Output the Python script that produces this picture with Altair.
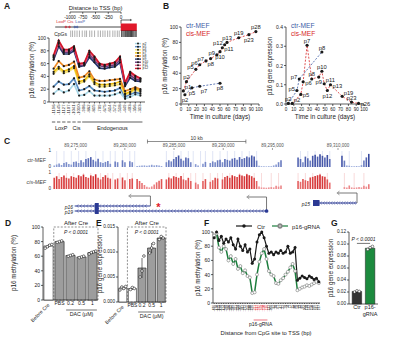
import json
import altair as alt
import pandas as pd

W, H = 401, 342
FONT = "Liberation Sans"
INK = "#1a1a1a"

# ======================= DATA =======================
# ---- Panel A ----
a_sites = ["-1196", "-1145", "-1127", "-1107", "-1041", "-1010", "-906", "-862", "-815",
           "-709", "-675", "-614", "-572", "-518", "-449", "-403", "-356", "-313"]
a_series = ["p2", "p5", "p6", "p7", "p8", "p9", "p10", "p11", "p12"]
a_p2 = [13, 20, 15, 18, 28, 10, 11, 17, 10, 10, 10, 10, 12, 15, 5, 8, 12, 10]
a_p5 = [24, 32, 27, 28, 37, 18, 20, 25, 18, 17, 16, 17, 18, 22, 8, 12, 15, 13]
a_p6 = [44, 52, 45, 48, 53, 29, 32, 40, 28, 24, 24, 25, 26, 28, 11, 14, 19, 16]
a_p7 = [47, 55, 48, 51, 56, 32, 34, 43, 31, 27, 27, 28, 29, 32, 13, 16, 21, 18]
a_p8 = [52, 64, 56, 58, 63, 38, 40, 48, 35, 33, 33, 34, 35, 36, 17, 20, 23, 20]
a_p9 = [66, 87, 75, 75, 80, 55, 57, 70, 62, 53, 52, 54, 55, 62, 25, 38, 33, 32]
a_p10 = [69, 91, 78, 78, 83, 57, 58, 74, 66, 57, 55, 57, 58, 66, 27, 42, 36, 34]
a_p11 = [71, 93, 80, 80, 85, 59, 60, 77, 69, 59, 57, 59, 61, 69, 29, 45, 39, 36]
a_p12 = [73, 96, 82, 82, 87, 60, 61, 80, 71, 60, 58, 60, 62, 71, 30, 47, 41, 37]
a_values = [a_p2, a_p5, a_p6, a_p7, a_p8, a_p9, a_p10, a_p11, a_p12]
a_colors = ["#a9d8e8", "#5b8fc4", "#f3e27a", "#f2c10f", "#ee8b25",
            "#26346e", "#6d3b7c", "#e0628a", "#d3172b"]
a_group_names = ["LoxP", "Cis", "Endogenous"]
a_group_first = [0, 4, 6]
a_group_last = [3, 5, 17]
a_tss_ticks = [-1000, -750, -500, -250, 0]
a_tss_labels = ["-1000", "-750", "-500", "-250", "0"]
a_cpg_bp = [-986, -950, -906, -862, -815, -760, -709, -675, -614, -572, -518, -449, -403,
            -356, -313, -262, -219, -160, -118, -72, -35, 12, 38, 61, 85, 104, 126, 149,
            170, 188, 206, 228, 251, 276, 298]
pct_ticks = [0, 20, 40, 60, 80, 100]
pct_labels = ["0", "20", "40", "60", "80", "100"]

# ---- Panel B ----
bl_cis_day = [3, 7, 19, 24, 32, 38, 46, 50, 53, 56, 59, 74, 87, 96]
bl_cis_meth = [17, 29, 45, 51, 56, 59, 64, 68, 73, 77, 80, 86, 90, 94]
bl_cis_lab = ["p1", "p2", "p5", "p6", "p7", "p8", "p9", "p10", "p11", "p12", "p13", "p19", "p23", "p28"]
bl_ctr_day = [5, 14, 24, 50]
bl_ctr_meth = [12, 21, 23, 27]
bl_ctr_lab = ["p2", "p5", "p7", "p8"]

br_cis_day = [8, 19, 22, 27, 33, 42, 46, 49, 53, 57, 72, 84, 93]
br_cis_expr = [0.003, 0.05, 0.115, 0.305, 0.13, 0.14, 0.17, 0.105, 0.07, 0.10, 0.04, 0.01, 0.003]
br_cis_lab = ["p2", "p5", "p6", "p7", "p8", "p9", "p10", "p11", "p12", "p13", "p19", "p23", "p26"]
br_ctr_day = [3, 14, 17, 46]
br_ctr_expr = [0.003, 0.07, 0.13, 0.27]
br_ctr_lab = ["p2", "p5", "p7", "p8"]
day_ticks = [0, 10, 20, 30, 40, 50, 60, 70, 80, 90, 100]
day_labels = ["0", "10", "20", "30", "40", "50", "60", "70", "80", "90", "100"]
expr_ticks = [0, 0.1, 0.2, 0.3, 0.4]
expr_labels = ["0.0", "0.1", "0.2", "0.3", "0.4"]

# ---- Panel C ----
c_ticks = [89275000, 89280000, 89285000, 89290000, 89295000, 89310000]
c_tick_labels = ["89,275,000", "89,280,000", "89,285,000", "89,290,000", "89,295,000", "89,310,000"]
c_scalebar = [89282300, 89292300]
c_ctr = [0.10, 0.15, 0.22, 0.12, 0.25, 0.30, 0.18, 0.15, 0.32, 0.35, 0.25, 0.42, 0.30, 0.50, 0.55,
         0.62, 0.45, 0.35, 0.52, 0.30, 0.25, 0.32, 0.38, 0.20,
         0.0, 0.35, 0.30, 0.0, 0.42, 0.30, 0.0, 0.36, 0.30, 0.0,
         0.06, 0.08, 0.10, 0.10, 0.08, 0.10, 0.14, 0.10, 0.12, 0.10, 0.06,
         0.0, 0.30, 0.42, 0.35, 0.50, 0.62, 0.72, 0.52, 0.40, 0.60, 0.55, 0.30, 0.0, 0.18,
         0.10, 0.0, 0.20, 0.32, 0.0, 0.25, 0.35, 0.30, 0.42, 0.46, 0.30, 0.50, 0.45, 0.40, 0.52,
         0.56, 0.45, 0.62, 0.50, 0.56, 0.66, 0.60, 0.72, 0.65, 0.40,
         0.08, 0.05, 0.05, 0.04, 0.05, 0.05, 0.10, 0.16, 0.30, 0.42,
         0.0, 0.0, 0.0, 0.0, 0.0, 0.0,
         0.60, 0.50, 0.30, 0.65, 0.55, 0.40, 0.70, 0.76, 0.65, 0.80, 0.70, 0.60, 0.75, 0.50,
         0.0, 0.0, 0.0, 0.0,
         0.70, 0.40, 0.10, 0.08, 0.05, 0.05, 0.06, 0.05, 0.12, 0.40, 0.60, 0.82]
c_cis = [0.70, 0.80, 0.62, 0.75, 0.85, 0.70, 0.66, 0.80, 0.75, 0.70, 0.86, 0.80, 0.90, 0.75, 0.70,
         0.85, 0.80, 0.92, 0.70, 0.60, 0.75, 0.86, 0.70, 0.65,
         0.0, 0.60, 0.66, 0.0, 0.72, 0.55, 0.0, 0.62, 0.66, 0.0,
         0.62, 0.50, 0.38, 0.25, 0.14, 0.10, 0.16, 0.28, 0.42, 0.52, 0.62,
         0.0, 0.60, 0.72, 0.66, 0.80, 0.75, 0.70, 0.82, 0.60, 0.55, 0.70, 0.50, 0.0, 0.40,
         0.30, 0.0, 0.50, 0.62, 0.0, 0.45, 0.55, 0.70, 0.66, 0.0, 0.60, 0.75, 0.82, 0.70, 0.86,
         0.80, 0.75, 0.90, 0.85, 0.80, 0.92, 0.86, 0.80, 0.70, 0.50,
         0.15, 0.10, 0.10, 0.08, 0.10, 0.12, 0.10, 0.20, 0.15, 0.22,
         0.0, 0.0, 0.0, 0.0, 0.0, 0.0,
         0.50, 0.45, 0.62, 0.55, 0.50, 0.72, 0.76, 0.82, 0.86, 0.90, 0.80, 0.76, 0.60, 0.40,
         0.0, 0.0, 0.0, 0.0,
         0.0, 0.12, 0.10, 0.22, 0.10, 0.08, 0.10, 0.12, 0.10, 0.20, 0.15, 0.30]
c_pale_ctr = [1, 4, 7, 10, 13, 17, 20, 23, 25, 28, 31, 33, 46, 49, 52, 55, 57, 60, 62, 65, 68,
              71, 74, 77, 80, 83, 101, 104, 107, 110, 113, 118, 121, 126]
c_pale_cis = [2, 5, 8, 12, 15, 19, 22, 24, 27, 30, 32, 47, 50, 53, 56, 58, 61, 64, 67, 69, 72,
              76, 79, 82, 85, 89, 92, 100, 103, 106, 109, 112, 119, 123, 127]
c_genes = ["p16", "p19", "p15"]
c_gene_start = [89274900, 89274900, 89307500]
c_gene_end = [89282600, 89294400, 89311900]
c_exon_start = [89276950, 89276950, 89307500]
c_exon_end = [89277350, 89277350, 89308150]
c_arrow_end = [89280500, 89292500, 89310000]
c_star = [89283400]

# ---- Panel D / E ----
dose_labels = ["Before Cre", "PBS", "0.2", "0.5", "1"]
d_mean = [74, 80, 61, 59, 65]
d_sd = [2.5, 1.0, 1.2, 0.8, 2.0]
d_reps = [[71, 73, 75, 76], [79, 80, 81], [60, 61, 62], [58, 59, 60], [63, 65, 66, 67]]
e_mean = [0.0028, 0.0027, 0.0068, 0.0108, 0.0128]
e_sd = [0.0004, 0.0003, 0.0020, 0.0010, 0.0003]
e_reps = [[0.0024, 0.0030, 0.0027, 0.0031], [0.0025, 0.0029, 0.0027],
          [0.0050, 0.0062, 0.0092], [0.0098, 0.0108, 0.0117], [0.0125, 0.0131, 0.0128]]
e_ticks = [0, 0.005, 0.010, 0.015]
e_labels = ["0.000", "0.005", "0.010", "0.015"]

# ---- Panel F ----
f_dist = ["-486", "-470", "-455", "-428", "-414", "-398", "-380", "-362", "-349", "-331",
          "-318", "-302", "-287", "-273", "-256", "-240", "-226", "-211", "-197", "-182",
          "-168", "-150", "-136", "-121", "-105", "-92", "-78", "-61", "-47", "-33",
          "-18", "-4", "11", "25", "40", "58", "73", "89", "104", "118",
          "133", "150", "166", "181", "197"]
f_ctr = [92, 100, 88, 94, 84, 90, 86, 92, 82, 76, 90, 80, 74, 82, 72, 76, 56, 62, 86, 96,
         100, 92, 80, 70, 72, 68, 72, 70, 74, 70, 72, 80, 70, 72, 78, 32, 35, 38, 36, 34,
         38, 36, 33, 35, 30]
f_grna = [95, 98, 78, 72, 80, 76, 60, 66, 55, 62, 48, 52, 42, 46, 38, 36, 14, 15, 40, 58,
          70, 76, 62, 45, 40, 38, 28, 27, 32, 35, 40, 44, 50, 55, 45, 18, 20, 22, 23, 25,
          24, 26, 28, 30, 28]
f_grna_first, f_grna_last = 17, 22

# ---- Panel G ----
g_groups = ["Ctr", "p16-gRNA"]
g_mean = [0.021, 0.093]
g_sd = [0.0015, 0.002]
g_reps = [[0.020, 0.022, 0.021], [0.091, 0.094, 0.096]]
g_ticks = [0, 0.02, 0.04, 0.06, 0.08, 0.10, 0.12]
g_labels = ["0.00", "0.02", "0.04", "0.06", "0.08", "0.10", "0.12"]


# ======================= HELPERS =======================
def lin(d, r):
    return alt.Scale(domain=d, range=r, nice=False, zero=False)


def txt(s, x, y, size=6, **kw):
    kw.setdefault("color", INK)
    return alt.Chart(pd.DataFrame({"t": [s]})).mark_text(fontSize=size, font=FONT, **kw).encode(
        x=alt.value(x), y=alt.value(y), text="t:N")


def vaxis(ys, x_px, ticks, labels, size=5.0, tlen=2.0, lo=None, hi=None):
    lo = ticks[0] if lo is None else lo
    hi = ticks[-1] if hi is None else hi
    dom = pd.DataFrame({"a": [lo], "b": [hi]})
    tk = pd.DataFrame({"v": ticks, "lab": labels})
    return [
        alt.Chart(dom).mark_rule(color=INK, strokeWidth=0.7).encode(
            x=alt.value(x_px), y=alt.Y("a:Q", scale=ys, axis=None), y2="b:Q"),
        alt.Chart(tk).mark_rule(color=INK, strokeWidth=0.7).encode(
            x=alt.value(x_px - tlen), x2=alt.value(x_px), y=alt.Y("v:Q", scale=ys, axis=None)),
        alt.Chart(tk).mark_text(fontSize=size, font=FONT, color=INK, align="right", baseline="middle").encode(
            x=alt.value(x_px - tlen - 1), y=alt.Y("v:Q", scale=ys, axis=None), text="lab:N"),
    ]


def haxis(xs, y_px, ticks, labels, size=5.0, tlen=2.0, lo=None, hi=None, angle=0,
          color=None, domain=True, top=False):
    lo = ticks[0] if lo is None else lo
    hi = ticks[-1] if hi is None else hi
    dom = pd.DataFrame({"a": [lo], "b": [hi]})
    tk = pd.DataFrame({"v": ticks, "lab": labels})
    out = []
    if domain:
        out.append(alt.Chart(dom).mark_rule(color=INK, strokeWidth=0.7).encode(
            x=alt.X("a:Q", scale=xs, axis=None), x2="b:Q", y=alt.value(y_px)))
    if tlen > 0:
        y2 = y_px - tlen if top else y_px + tlen
        out.append(alt.Chart(tk).mark_rule(color=INK if domain else "#777", strokeWidth=0.7).encode(
            x=alt.X("v:Q", scale=xs, axis=None), y=alt.value(y_px), y2=alt.value(y2)))
    if top:
        props = dict(align="center", baseline="bottom")
        ly = y_px - tlen - 0.5
    elif angle == 270:
        props = dict(align="right", baseline="middle", angle=270)
        ly = y_px + tlen + 1
    else:
        props = dict(align="center", baseline="top")
        ly = y_px + tlen + 1
    enc = dict(x=alt.X("v:Q", scale=xs, axis=None), y=alt.value(ly), text="lab:N")
    if color is not None:
        enc["color"] = color
    else:
        props["color"] = INK
    out.append(alt.Chart(tk).mark_text(fontSize=size, font=FONT, **props).encode(**enc))
    return out


def ytitle(s, x, y, size=6.3):
    return txt(s, x, y, size, angle=270, align="center", baseline="middle")


layers = []

# ======================= PANEL A =======================
a_rows = []
for s, vals in zip(a_series, a_values):
    for i, v in enumerate(vals):
        a_rows.append({"series": s, "i": i, "v": v})
a_df = pd.DataFrame(a_rows)
a_x = lin([-0.9, 17.9], [49, 145])
a_y = lin([0, 100], [102, 38])
a_col = alt.Color("series:N", scale=alt.Scale(domain=a_series, range=a_colors), legend=None)

a_lines = alt.Chart(a_df).mark_line(strokeWidth=1.7).encode(
    x=alt.X("i:Q", scale=a_x, axis=None), y=alt.Y("v:Q", scale=a_y, axis=None), color=a_col)
a_pts = alt.Chart(a_df).mark_circle(size=5, color=INK, opacity=1).encode(
    x=alt.X("i:Q", scale=a_x, axis=None), y=alt.Y("v:Q", scale=a_y, axis=None))
a_grp_df = pd.DataFrame({"name": a_group_names, "first": a_group_first, "last": a_group_last})
# short underline under each LoxP / Cis site, one long line under the endogenous sites
a_short_idx = [i for f, l in zip(a_group_first[:2], a_group_last[:2]) for i in range(f, l + 1)]
a_short = alt.Chart(pd.DataFrame({"i": a_short_idx})).transform_calculate(
    lo="datum.i - 0.33", hi="datum.i + 0.33").mark_rule(color=INK, strokeWidth=0.7).encode(
    x=alt.X("lo:Q", scale=a_x, axis=None), x2="hi:Q", y=alt.value(122))
a_long = alt.Chart(a_grp_df.iloc[2:]).transform_calculate(
    lo="datum.first - 0.4", hi="datum.last + 0.4").mark_rule(color=INK, strokeWidth=0.7).encode(
    x=alt.X("lo:Q", scale=a_x, axis=None), x2="hi:Q", y=alt.value(122))
a_grp_txt = alt.Chart(a_grp_df).transform_calculate(
    mid="(datum.first + datum.last) / 2").mark_text(fontSize=5.5, font=FONT, color=INK).encode(
    x=alt.X("mid:Q", scale=a_x, axis=None), y=alt.value(128), text="name:N")
a_axes = vaxis(a_y, 49, pct_ticks, pct_labels) + haxis(
    a_x, 102, list(range(18)), a_sites, size=4.2, tlen=1.5, lo=-0.9, hi=17.9, angle=270)
layers.append(alt.layer(*a_axes, a_lines, a_pts, a_short, a_long, a_grp_txt))
layers.append(ytitle("p16 methylation (%)", 32, 70))

# legend of A
a_leg = pd.DataFrame({"series": a_series})
a_leg_y = alt.Scale(type="point", domain=a_series, range=[42, 70])
a_leg_line = alt.Chart(a_leg).mark_rule(strokeWidth=1.4).encode(
    x=alt.value(135), x2=alt.value(141), y=alt.Y("series:N", scale=a_leg_y, axis=None), color=a_col)
a_leg_dot = alt.Chart(a_leg).mark_circle(size=4, color=INK, opacity=1).encode(
    x=alt.value(138), y=alt.Y("series:N", scale=a_leg_y, axis=None))
a_leg_txt = alt.Chart(a_leg).mark_text(fontSize=3.4, font=FONT, align="left", color=INK).encode(
    x=alt.value(142.5), y=alt.Y("series:N", scale=a_leg_y, axis=None), text="series:N")
layers.append(alt.layer(a_leg_line, a_leg_dot, a_leg_txt))

# top schematic of A
a_bp = lin([-1000, 0], [70, 121])
a_top_axis = haxis(a_bp, 12, a_tss_ticks, a_tss_labels, size=4.6, tlen=1.8)
a_top_title = alt.Chart(pd.DataFrame({"a": [-500], "t": ["Distance to TSS (bp)"]})).mark_text(
    fontSize=5.8, font=FONT, color=INK, baseline="bottom").encode(
    x=alt.X("a:Q", scale=a_bp, axis=None), y=alt.value(10.5), text="t:N")
a_line = alt.Chart(pd.DataFrame({"a": [-1290], "b": [0]})).mark_rule(color=INK, strokeWidth=0.8).encode(
    x=alt.X("a:Q", scale=a_bp, axis=None), x2="b:Q", y=alt.value(27))
a_exon = alt.Chart(pd.DataFrame({"a": [-5], "b": [310]})).mark_rect(color="#e0192b").encode(
    x=alt.X("a:Q", scale=a_bp, axis=None), x2="b:Q", y=alt.value(23.5), y2=alt.value(31))
a_tss_v = alt.Chart(pd.DataFrame({"a": [0]})).mark_rule(color=INK, strokeWidth=0.7).encode(
    x=alt.X("a:Q", scale=a_bp, axis=None), y=alt.value(20), y2=alt.value(23.5))
a_tss_h = alt.Chart(pd.DataFrame({"a": [0], "b": [190]})).mark_rule(color=INK, strokeWidth=0.7).encode(
    x=alt.X("a:Q", scale=a_bp, axis=None), x2="b:Q", y=alt.value(20))
a_tss_head = alt.Chart(pd.DataFrame({"a": [200]})).mark_point(shape="triangle-right", filled=True, size=6, color=INK).encode(
    x=alt.X("a:Q", scale=a_bp, axis=None), y=alt.value(20))
a_lox_red = alt.Chart(pd.DataFrame({"a": [-1080, -1010]})).mark_point(shape="diamond", filled=True, size=10, color="#d3172b").encode(
    x=alt.X("a:Q", scale=a_bp, axis=None), y=alt.value(27))
a_lox_blue = alt.Chart(pd.DataFrame({"a": [-905, -860]})).mark_point(shape="diamond", filled=True, size=10, color="#3a55a4").encode(
    x=alt.X("a:Q", scale=a_bp, axis=None), y=alt.value(27))
a_lox_t1 = alt.Chart(pd.DataFrame({"a": [-1175], "t": ["LoxP"]})).mark_text(fontSize=4.3, font=FONT, color="#d3172b").encode(
    x=alt.X("a:Q", scale=a_bp, axis=None), y=alt.value(22), text="t:N")
a_lox_t2 = alt.Chart(pd.DataFrame({"a": [-995], "t": ["Cis"]})).mark_text(fontSize=4.3, font=FONT, color="#d3172b").encode(
    x=alt.X("a:Q", scale=a_bp, axis=None), y=alt.value(22), text="t:N")
a_lox_t3 = alt.Chart(pd.DataFrame({"a": [-800], "t": ["LoxP"]})).mark_text(fontSize=4.3, font=FONT, color="#3a55a4").encode(
    x=alt.X("a:Q", scale=a_bp, axis=None), y=alt.value(22), text="t:N")
a_cpg = alt.Chart(pd.DataFrame({"bp": a_cpg_bp})).mark_rule(strokeWidth=0.8).encode(
    x=alt.X("bp:Q", scale=a_bp, axis=None), y=alt.value(30.5), y2=alt.value(37),
    color=alt.condition("datum.bp >= -30", alt.value(INK), alt.value("#9a9a9a")))
layers.append(alt.layer(*a_top_axis, a_top_title, a_line, a_exon, a_tss_v, a_tss_h, a_tss_head,
                        a_lox_red, a_lox_blue, a_lox_t1, a_lox_t2, a_lox_t3, a_cpg))
layers.append(txt("CpGs", 67, 34, 5, align="right", baseline="middle"))

# ======================= PANEL B =======================
BLUE = "#3b5ba5"
RED = "#d62728"
PLACE = {"above": dict(align="center", dx=0, dy=-4.5), "below": dict(align="center", dx=0, dy=5),
         "left": dict(align="right", dx=-2, dy=-2), "right": dict(align="left", dx=2, dy=1),
         "upright": dict(align="left", dx=1.5, dy=-3.5), "belowright": dict(align="left", dx=1, dy=5),
         "belowleft": dict(align="right", dx=-1, dy=5)}


def b_panel(cis_x, cis_y, cis_lab, ctr_x, ctr_y, ctr_lab, xs, ys, axes, groups_cis, groups_ctr):
    cis = pd.DataFrame({"d": cis_x, "v": cis_y, "lab": cis_lab})
    ctr = pd.DataFrame({"d": ctr_x, "v": ctr_y, "lab": ctr_lab})
    out = list(axes)
    out.append(alt.Chart(ctr).mark_line(color=BLUE, strokeWidth=0.8, strokeDash=[2, 1.5]).encode(
        x=alt.X("d:Q", scale=xs, axis=None), y=alt.Y("v:Q", scale=ys, axis=None)))
    out.append(alt.Chart(cis).mark_line(color=RED, strokeWidth=0.8, strokeDash=[2, 1.5]).encode(
        x=alt.X("d:Q", scale=xs, axis=None), y=alt.Y("v:Q", scale=ys, axis=None)))
    for df in (ctr, cis):
        out.append(alt.Chart(df).mark_circle(size=10, color=INK, opacity=1).encode(
            x=alt.X("d:Q", scale=xs, axis=None), y=alt.Y("v:Q", scale=ys, axis=None)))
    for df, groups in ((cis, groups_cis), (ctr, groups_ctr)):
        for key, names in groups.items():
            out.append(alt.Chart(df).transform_filter(
                alt.FieldOneOfPredicate(field="lab", oneOf=names)).mark_text(
                fontSize=5.8, font=FONT, color=INK, **PLACE[key]).encode(
                x=alt.X("d:Q", scale=xs, axis=None), y=alt.Y("v:Q", scale=ys, axis=None), text="lab:N"))
    return alt.layer(*out)


bl_x = lin([0, 100], [181, 259])
bl_y = lin([0, 100], [104, 27])
layers.append(b_panel(
    bl_cis_day, bl_cis_meth, bl_cis_lab, bl_ctr_day, bl_ctr_meth, bl_ctr_lab, bl_x, bl_y,
    vaxis(bl_y, 181, pct_ticks, pct_labels) + haxis(bl_x, 104, day_ticks, day_labels, size=4.6),
    {"left": ["p5", "p6", "p7", "p9", "p12"], "above": ["p2", "p13", "p19", "p28"],
     "below": ["p8", "p10", "p23"], "right": ["p11"], "upright": ["p1"]},
    {"below": ["p2", "p5", "p8"], "belowright": ["p7"]}))
layers.append(ytitle("p16 methylation (%)", 165, 66))
layers.append(txt("Time in culture (days)", 220, 117, 6.3, baseline="middle"))
layers.append(txt("ctr-MEF", 186, 26, 6.6, align="left", baseline="middle", color=BLUE))
layers.append(txt("cis-MEF", 186, 33.5, 6.6, align="left", baseline="middle", color=RED))

br_x = lin([0, 100], [286, 364])
br_y = lin([0, 0.4], [104, 27])
layers.append(b_panel(
    br_cis_day, br_cis_expr, br_cis_lab, br_ctr_day, br_ctr_expr, br_ctr_lab, br_x, br_y,
    vaxis(br_y, 286, expr_ticks, expr_labels) + haxis(br_x, 104, day_ticks, day_labels, size=4.6),
    {"above": ["p7", "p8", "p10", "p23"], "right": ["p5", "p6", "p13", "p26"],
     "upright": ["p2", "p11", "p19"], "below": ["p12", "p9"]},
    {"above": ["p2", "p8"], "left": ["p5", "p7"]}))
layers.append(ytitle("p16 gene expression", 270, 66))
layers.append(txt("Time in culture (days)", 325, 117, 6.3, baseline="middle"))
layers.append(txt("ctr-MEF", 291, 26, 6.6, align="left", baseline="middle", color=BLUE))
layers.append(txt("cis-MEF", 291, 33.5, 6.6, align="left", baseline="middle", color=RED))

# ======================= PANEL C =======================
c_g = lin([89272700, 89297800, 89307200, 89313200], [53, 300, 310, 370])
c_axis = haxis(c_g, 150, c_ticks, c_tick_labels, size=4.5, tlen=2, domain=False, top=True,
               color=alt.value("#555"))
c_sb = alt.Chart(pd.DataFrame({"a": [c_scalebar[0]], "b": [c_scalebar[1]]})).mark_rule(color="#444", strokeWidth=0.6).encode(
    x=alt.X("a:Q", scale=c_g, axis=None), x2="b:Q", y=alt.value(141.5))
c_sb_end = alt.Chart(pd.DataFrame({"a": c_scalebar})).mark_rule(color="#444", strokeWidth=0.6).encode(
    x=alt.X("a:Q", scale=c_g, axis=None), y=alt.value(139.5), y2=alt.value(143.5))
c_sb_t = alt.Chart(pd.DataFrame({"a": [sum(c_scalebar) / 2], "t": ["10 kb"]})).mark_text(
    fontSize=5, font=FONT, color="#333", baseline="bottom").encode(
    x=alt.X("a:Q", scale=c_g, axis=None), y=alt.value(140.5), text="t:N")

NAVY = "#2b3a94"
gene_df = pd.DataFrame({"gene": c_genes, "s": c_gene_start, "e": c_gene_end,
                        "xs": c_exon_start, "xe": c_exon_end, "ae": c_arrow_end})
gene_y = {"p16": 206, "p19": 211, "p15": 203}
arrow_top = {"p16": 196, "p19": 197, "p15": 193}
chev_step = {"p16": 330, "p19": 330, "p15": 260}
gene_layers = c_axis + [c_sb, c_sb_end, c_sb_t]
for gname in c_genes:
    gy = gene_y[gname]
    sub = gene_df[gene_df.gene == gname]
    gene_layers.append(alt.Chart(sub).mark_rule(color=NAVY, strokeWidth=1.1).encode(
        x=alt.X("s:Q", scale=c_g, axis=None), x2="e:Q", y=alt.value(gy)))
    gene_layers.append(alt.Chart(sub).mark_rect(color=NAVY).encode(
        x=alt.X("xs:Q", scale=c_g, axis=None), x2="xe:Q", y=alt.value(gy - 3), y2=alt.value(gy + 3)))
    gs, ge = int(sub.s.iloc[0]), int(sub.e.iloc[0])
    gene_layers.append(alt.Chart(alt.sequence(gs + 300, ge - 150, chev_step[gname], as_="g")).mark_point(
        shape="M0.6,-1L-0.6,0L0.6,1", filled=False, size=9, strokeWidth=0.7, color=NAVY).encode(
        x=alt.X("g:Q", scale=c_g, axis=None), y=alt.value(gy)))
    gene_layers.append(alt.Chart(sub).mark_rule(color="#555", strokeWidth=0.8).encode(
        x=alt.X("e:Q", scale=c_g, axis=None), y=alt.value(arrow_top[gname]), y2=alt.value(gy)))
    gene_layers.append(alt.Chart(sub).mark_rule(color="#555", strokeWidth=0.8).encode(
        x=alt.X("ae:Q", scale=c_g, axis=None), x2="e:Q", y=alt.value(arrow_top[gname])))
    gene_layers.append(alt.Chart(sub).mark_point(shape="M0.8,-1L-0.6,0L0.8,1", filled=False, size=14,
                                                 strokeWidth=0.8, color="#555").encode(
        x=alt.X("ae:Q", scale=c_g, axis=None), y=alt.value(arrow_top[gname])))
gene_layers.append(alt.Chart(gene_df[gene_df.gene == "p19"]).mark_circle(size=14, color=NAVY, opacity=1).encode(
    x=alt.X("e:Q", scale=c_g, axis=None), y=alt.value(211)))
gene_layers.append(alt.Chart(pd.DataFrame({"a": c_star, "t": ["*"]})).mark_text(
    fontSize=11, font=FONT, color="#e0192b", fontWeight="bold").encode(
    x=alt.X("a:Q", scale=c_g, axis=None), y=alt.value(208), text="t:N"))
layers.append(alt.layer(*gene_layers))
layers.append(txt("p16", 73, 206.5, 5, align="right", fontStyle="italic", baseline="middle"))
layers.append(txt("p19", 73, 211.5, 5, align="right", fontStyle="italic", baseline="middle"))
layers.append(txt("p15", 310, 203.5, 5, align="right", fontStyle="italic", baseline="middle"))


def track(vals, pale, y_rng, lo_col, hi_col, pale_col):
    n = len(vals)
    xs = lin([-0.5, 129.5], [53, 370])
    ys = lin([0, 1], y_rng)
    df = pd.DataFrame({"i": list(range(n)), "v": vals, "base": [0] * n})
    pdf = pd.DataFrame({"i": pale, "top": [1] * len(pale), "base": [0] * len(pale)})
    tk = pd.DataFrame({"v": [0, 1], "lab": ["0", "1"]})
    pale_l = alt.Chart(pdf).mark_rule(color=pale_col, strokeWidth=0.7).encode(
        x=alt.X("i:Q", scale=xs, axis=None), y=alt.Y("top:Q", scale=ys, axis=None), y2="base:Q")
    bars = alt.Chart(df).transform_filter("datum.v > 0").transform_calculate(
        lo="datum.i - 0.33", hi="datum.i + 0.33").mark_rect().encode(
        x=alt.X("lo:Q", scale=xs, axis=None), x2="hi:Q",
        y=alt.Y("v:Q", scale=ys, axis=None), y2="base:Q",
        color=alt.Color("v:Q", scale=alt.Scale(domain=[0, 1], range=[lo_col, hi_col]), legend=None))
    labs = alt.Chart(tk).mark_text(fontSize=4.6, font=FONT, color="#333", align="right", baseline="middle").encode(
        x=alt.value(51), y=alt.Y("v:Q", scale=ys, axis=None), text="lab:N")
    return alt.layer(pale_l, bars, labs)


layers.append(track(c_ctr, c_pale_ctr, [167, 151], "#9fb0df", "#1f3590", "#d3daf0"))
layers.append(track(c_cis, c_pale_cis, [189, 173], "#f0a0a4", "#cc0f1e", "#f6caca"))
layers.append(txt("ctr-MEF", 46, 160, 5.3, align="right", color="#444", baseline="middle"))
layers.append(txt("cis-MEF", 46, 182, 5.3, align="right", color="#444", baseline="middle", fontStyle="italic"))


# ======================= PANELS D / E =======================
def dose_panel(mean, sd, reps, x_rng, y_dom, y_rng, n_white, y_ticks, y_labels, ysize):
    xs = lin([-0.5, 4.5], x_rng)
    ys = lin(y_dom, y_rng)
    n = len(mean)
    bdf = pd.DataFrame({"i": list(range(n)), "m": mean, "sd": sd, "base": [0] * n})
    rrows = []
    for i, rr in enumerate(reps):
        for k, v in enumerate(rr):
            rrows.append({"i": i, "k": k, "n": len(rr), "v": v})
    rdf = pd.DataFrame(rrows)
    y0 = y_rng[0]
    out = vaxis(ys, x_rng[0], y_ticks, y_labels, size=ysize)
    out += haxis(xs, y0, [1, 2, 3, 4], dose_labels[1:], size=5, tlen=0, lo=-0.5, hi=4.5)
    out.append(alt.Chart(bdf).transform_calculate(lo="datum.i - 0.42", hi="datum.i + 0.42").mark_rect(
        stroke=INK, strokeWidth=0.6).encode(
        x=alt.X("lo:Q", scale=xs, axis=None), x2="hi:Q",
        y=alt.Y("m:Q", scale=ys, axis=None), y2="base:Q",
        fill=alt.condition(f"datum.i < {n_white}", alt.value("white"), alt.value("#9d9d9d"))))
    out.append(alt.Chart(bdf).transform_calculate(lo="datum.m - datum.sd", hi="datum.m + datum.sd").mark_rule(
        color=INK, strokeWidth=0.6).encode(
        x=alt.X("i:Q", scale=xs, axis=None), y=alt.Y("lo:Q", scale=ys, axis=None), y2="hi:Q"))
    out.append(alt.Chart(rdf).transform_calculate(xj="datum.i + (datum.k - (datum.n - 1) / 2) * 0.2").mark_point(
        shape="circle", filled=True, fill="white", stroke=INK, strokeWidth=0.6, size=7, opacity=1).encode(
        x=alt.X("xj:Q", scale=xs, axis=None), y=alt.Y("v:Q", scale=ys, axis=None)))
    box = pd.DataFrame({"first": [1], "last": [4], "top": [y_dom[1]], "base": [y_dom[0]],
                        "t1": ["After Cre"], "t2": ["P < 0.0001"]})
    out.append(alt.Chart(box).transform_calculate(lo="datum.first - 0.52", hi="datum.last + 0.5").mark_rect(
        fillOpacity=0, stroke="#444", strokeWidth=0.6, strokeDash=[2, 1.5]).encode(
        x=alt.X("lo:Q", scale=xs, axis=None), x2="hi:Q", y=alt.Y("top:Q", scale=ys, axis=None), y2="base:Q"))
    out.append(alt.Chart(box).transform_calculate(mid="(datum.first + datum.last) / 2").mark_text(
        fontSize=6, font=FONT, color=INK, baseline="bottom", dy=-1).encode(
        x=alt.X("mid:Q", scale=xs, axis=None), y=alt.Y("top:Q", scale=ys, axis=None), text="t1:N"))
    out.append(alt.Chart(box).transform_calculate(mid="(datum.first + datum.last) / 2").mark_text(
        fontSize=5, font=FONT, color=INK, baseline="top", dy=3, fontStyle="italic").encode(
        x=alt.X("mid:Q", scale=xs, axis=None), y=alt.Y("top:Q", scale=ys, axis=None), text="t2:N"))
    dac = pd.DataFrame({"a": [2], "b": [4], "t": ["DAC (\u03bcM)"]})
    out.append(alt.Chart(dac).transform_calculate(lo="datum.a - 0.4", hi="datum.b + 0.4").mark_rule(
        color=INK, strokeWidth=0.6).encode(
        x=alt.X("lo:Q", scale=xs, axis=None), x2="hi:Q", y=alt.value(y0 + 10)))
    out.append(alt.Chart(dac).transform_calculate(mid="(datum.a + datum.b) / 2").mark_text(
        fontSize=5.3, font=FONT, color=INK, baseline="top").encode(
        x=alt.X("mid:Q", scale=xs, axis=None), y=alt.value(y0 + 11.5), text="t:N"))
    bc = pd.DataFrame({"i": [0], "t": [dose_labels[0]]})
    out.append(alt.Chart(bc).mark_text(fontSize=5, font=FONT, color=INK, angle=315, align="right",
                                       baseline="middle").encode(
        x=alt.X("i:Q", scale=xs, axis=None), y=alt.value(y0 + 4), text="t:N"))
    return alt.layer(*out)


layers.append(dose_panel(d_mean, d_sd, d_reps, [43, 98], [0, 100], [300, 227], 1,
                         pct_ticks, pct_labels, 5))
layers.append(ytitle("p16 methylation (%)", 14, 263))
layers.append(dose_panel(e_mean, e_sd, e_reps, [118, 166], [0, 0.015], [302, 227], 2,
                         e_ticks, e_labels, 4.7))
layers.append(ytitle("p16 gene expression", 100, 264))

# ======================= PANEL F =======================
GREEN = "#1b7d3c"
f_n = len(f_ctr)
f_x = lin([-0.5, f_n - 0.5], [213, 320])
f_y = lin([0, 100], [303, 232])
f_df = pd.DataFrame({"i": list(range(f_n)), "ctr": f_ctr, "grna": f_grna})
f_red = alt.condition(f"datum.v >= {f_grna_first} && datum.v <= {f_grna_last}",
                      alt.value("#e0192b"), alt.value(INK))
f_axes = vaxis(f_y, 213, pct_ticks, pct_labels) + haxis(
    f_x, 303, list(range(f_n)), f_dist, size=3.2, tlen=1, lo=-0.5, hi=f_n - 0.5, angle=270, color=f_red)
f_gl = alt.Chart(f_df).mark_line(color=GREEN, strokeWidth=1.5).encode(
    x=alt.X("i:Q", scale=f_x, axis=None), y=alt.Y("grna:Q", scale=f_y, axis=None))
f_gp = alt.Chart(f_df).mark_point(shape="circle", filled=True, fill="white", stroke="#888", strokeWidth=0.7,
                                  size=9, opacity=1).encode(
    x=alt.X("i:Q", scale=f_x, axis=None), y=alt.Y("grna:Q", scale=f_y, axis=None))
f_bl = alt.Chart(f_df).mark_line(color=INK, strokeWidth=1.2).encode(
    x=alt.X("i:Q", scale=f_x, axis=None), y=alt.Y("ctr:Q", scale=f_y, axis=None))
f_bp = alt.Chart(f_df).mark_circle(size=9, color=INK, opacity=1).encode(
    x=alt.X("i:Q", scale=f_x, axis=None), y=alt.Y("ctr:Q", scale=f_y, axis=None))
f_g = pd.DataFrame({"a": [f_grna_first], "b": [f_grna_last], "t": ["p16-gRNA"]})
f_grule = alt.Chart(f_g).transform_calculate(lo="datum.a - 0.4", hi="datum.b + 0.4").mark_rule(
    color="#e0192b", strokeWidth=0.6).encode(
    x=alt.X("lo:Q", scale=f_x, axis=None), x2="hi:Q", y=alt.value(320))
f_gtxt = alt.Chart(f_g).transform_calculate(mid="(datum.a + datum.b) / 2").mark_text(
    fontSize=5, font=FONT, color=INK, baseline="top").encode(
    x=alt.X("mid:Q", scale=f_x, axis=None), y=alt.value(321.5), text="t:N")
layers.append(alt.layer(*f_axes, f_bl, f_gl, f_gp, f_bp, f_grule, f_gtxt))
layers.append(ytitle("p16 methylation (%)", 198, 268))
layers.append(txt("Distance from CpG site to TSS (bp)", 266, 333, 5.8, baseline="middle"))
# F legend
layers.append(alt.Chart(pd.DataFrame({"a": [0]})).mark_rule(color=INK, strokeWidth=1.2).encode(
    x=alt.value(236), x2=alt.value(252), y=alt.value(226)))
layers.append(alt.Chart(pd.DataFrame({"a": [0]})).mark_circle(size=12, color=INK, opacity=1).encode(
    x=alt.value(244), y=alt.value(226)))
layers.append(txt("Ctr", 257, 226.5, 6, align="left", baseline="middle"))
layers.append(alt.Chart(pd.DataFrame({"a": [0]})).mark_rule(color=GREEN, strokeWidth=1.2).encode(
    x=alt.value(272), x2=alt.value(288), y=alt.value(226)))
layers.append(alt.Chart(pd.DataFrame({"a": [0]})).mark_point(shape="circle", filled=True, fill="white",
                                                             stroke="#888", size=12, opacity=1).encode(
    x=alt.value(280), y=alt.value(226)))
layers.append(txt("p16-gRNA", 292, 226.5, 6, align="left", baseline="middle"))

# ======================= PANEL G =======================
g_x = lin([-0.6, 1.6], [349, 378])
g_y = lin([0, 0.12], [304, 232])
g_df = pd.DataFrame({"i": [0, 1], "m": g_mean, "sd": g_sd, "base": [0, 0]})
g_rows = []
for i, rr in enumerate(g_reps):
    for k, v in enumerate(rr):
        g_rows.append({"i": i, "k": k, "n": len(rr), "v": v})
g_rdf = pd.DataFrame(g_rows)
g_axes = vaxis(g_y, 349, g_ticks, g_labels, size=4.7) + haxis(
    g_x, 304, [0], g_groups[:1], size=5.5, tlen=0, lo=-0.6, hi=1.6)
g_lab2 = alt.Chart(pd.DataFrame({"i": [1], "t": [["p16-", "gRNA"]]})).mark_text(
    fontSize=5.5, font=FONT, color=INK, baseline="top", lineHeight=6.5).encode(
    x=alt.X("i:Q", scale=g_x, axis=None), y=alt.value(305), text="t")
g_bars = alt.Chart(g_df).transform_calculate(lo="datum.i - 0.36", hi="datum.i + 0.36").mark_rect(
    stroke=INK, strokeWidth=0.5).encode(
    x=alt.X("lo:Q", scale=g_x, axis=None), x2="hi:Q",
    y=alt.Y("m:Q", scale=g_y, axis=None), y2="base:Q",
    fill=alt.condition("datum.i == 0", alt.value("#333333"), alt.value("#1c8a3e")))
g_err = alt.Chart(g_df).transform_calculate(lo="datum.m - datum.sd", hi="datum.m + datum.sd").mark_rule(
    color=INK, strokeWidth=0.6).encode(
    x=alt.X("i:Q", scale=g_x, axis=None), y=alt.Y("lo:Q", scale=g_y, axis=None), y2="hi:Q")
g_pts = alt.Chart(g_rdf).transform_calculate(xj="datum.i + (datum.k - (datum.n - 1) / 2) * 0.18").mark_point(
    shape="circle", filled=True, fill="white", stroke=INK, strokeWidth=0.5, size=7, opacity=1).encode(
    x=alt.X("xj:Q", scale=g_x, axis=None), y=alt.Y("v:Q", scale=g_y, axis=None))
g_sig = pd.DataFrame({"a": [0], "b": [1], "y": [0.101], "t": ["P < 0.0001"]})
g_rule = alt.Chart(g_sig).mark_rule(color=INK, strokeWidth=0.6).encode(
    x=alt.X("a:Q", scale=g_x, axis=None), x2="b:Q", y=alt.Y("y:Q", scale=g_y, axis=None))
g_txt = alt.Chart(g_sig).transform_calculate(mid="(datum.a + datum.b) / 2").mark_text(
    fontSize=5, font=FONT, color=INK, baseline="bottom", dy=-1.5, fontStyle="italic").encode(
    x=alt.X("mid:Q", scale=g_x, axis=None), y=alt.Y("y:Q", scale=g_y, axis=None), text="t:N")
layers.append(alt.layer(*g_axes, g_lab2, g_bars, g_err, g_pts, g_rule, g_txt))
layers.append(ytitle("p16 gene expression", 331, 268))

# ======================= PANEL LETTERS =======================
for letter, lx, ly in [("A", 4, 6), ("B", 163, 6), ("C", 4, 141), ("D", 5, 223),
                       ("E", 96, 223), ("F", 204, 223), ("G", 331, 223)]:
    layers.append(txt(letter, lx, ly, 8.5, fontWeight="bold", align="left", baseline="middle"))

chart = alt.layer(*layers).resolve_scale(
    x="independent", y="independent", color="independent"
).properties(
    width=W, height=H, autosize=alt.AutoSizeParams(type="none"), padding=0, background="white"
).configure_view(stroke=None).configure_text(font=FONT)

chart.save("out.html", embed_options={"renderer": "svg", "actions": False})
